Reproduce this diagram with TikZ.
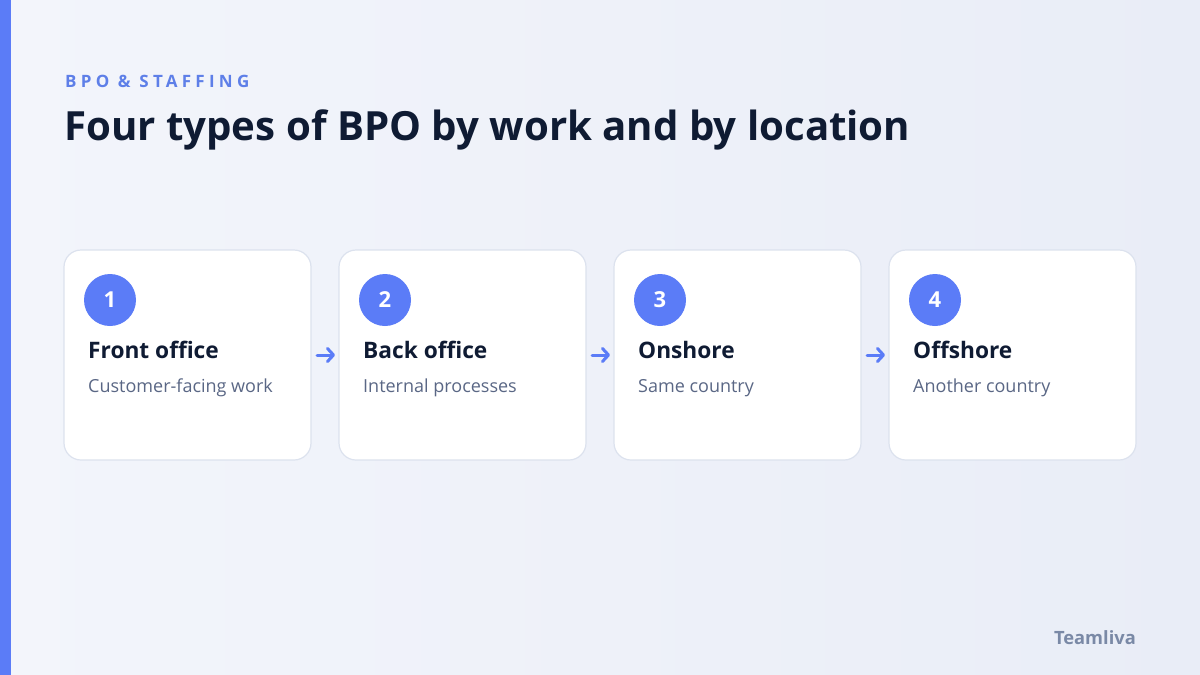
\documentclass[tikz,border=0pt]{standalone}
\usepackage{fontspec}
\setmainfont{Open Sans}
\newfontfamily\spaced[LetterSpace=25]{Open Sans}
\definecolor{accent}{HTML}{5B7CF7}
\definecolor{kicker}{HTML}{5E7FE8}
\definecolor{navy}{HTML}{0F1B33}
\definecolor{muted}{HTML}{5A6785}
\definecolor{brand}{HTML}{7A89A6}
\definecolor{cardline}{HTML}{DCE2EE}
\definecolor{bgA}{HTML}{F3F5FB}
\definecolor{bgB}{HTML}{E9EDF7}
\tikzset{
  card/.style={draw=cardline, line width=1.2pt, fill=white, rounded corners=17pt},
  badge/.style={circle, fill=accent, minimum size=52pt, inner sep=0pt, text=white, font=\bfseries\fontsize{22}{22}\selectfont},
  ctitle/.style={anchor=base west, inner sep=0pt, text=navy, font=\bfseries\fontsize{22.7}{22.7}\selectfont},
  csub/.style={anchor=base west, inner sep=0pt, text=muted, font=\fontsize{18}{18}\selectfont},
  flow/.style={draw=accent, line width=3pt, line cap=round, line join=round, -{Straight Barb[length=6pt,width=13pt,line cap=round,line join=round]}},
}
\usetikzlibrary{arrows.meta}
\begin{document}
\begin{tikzpicture}[x=1pt,y=-1pt]
\useasboundingbox (0,0) rectangle (1200,675);
\shade[left color=bgA, right color=bgB] (0,0) rectangle (1200,675);
\fill[accent] (0,0) rectangle (11,675);
\node[anchor=base west, inner sep=0pt, text=kicker, font=\spaced\bfseries\fontsize{17}{17}\selectfont] (kick) at (65,87) {BPO \& STAFFING};
\node[anchor=base west, inner sep=0pt, text=navy, font=\bfseries\fontsize{40.2}{40.2}\selectfont] (title) at (64,140) {Four types of BPO by work and by location};
\foreach \i/\t/\s in {1/Front office/Customer-facing work,2/Back office/Internal processes,3/Onshore/Same country,4/Offshore/Another country}{
  \pgfmathsetmacro{\xx}{64+(\i-1)*275}
  \draw[card] (\xx,250) rectangle ++(247,210);
  \coordinate (c\i w) at (\xx,355);
  \coordinate (c\i e) at (\xx+247,355);
  \node[badge] (b\i) at (\xx+46,300) {\i};
  \node[ctitle] (t\i) at (\xx+24,358) {\t};
  \node[csub] (s\i) at (\xx+24,392) {\s};
}
\foreach \a/\b in {1/2,2/3,3/4}{
  \draw[flow] ([xshift=6pt]c\a e) -- ([xshift=-4pt]c\b w);
}
\node[anchor=base east, inner sep=0pt, text=brand, font=\bfseries\fontsize{18.3}{18.3}\selectfont] (brandname) at (1136,644) {Teamliva};
\end{tikzpicture}
\end{document}
